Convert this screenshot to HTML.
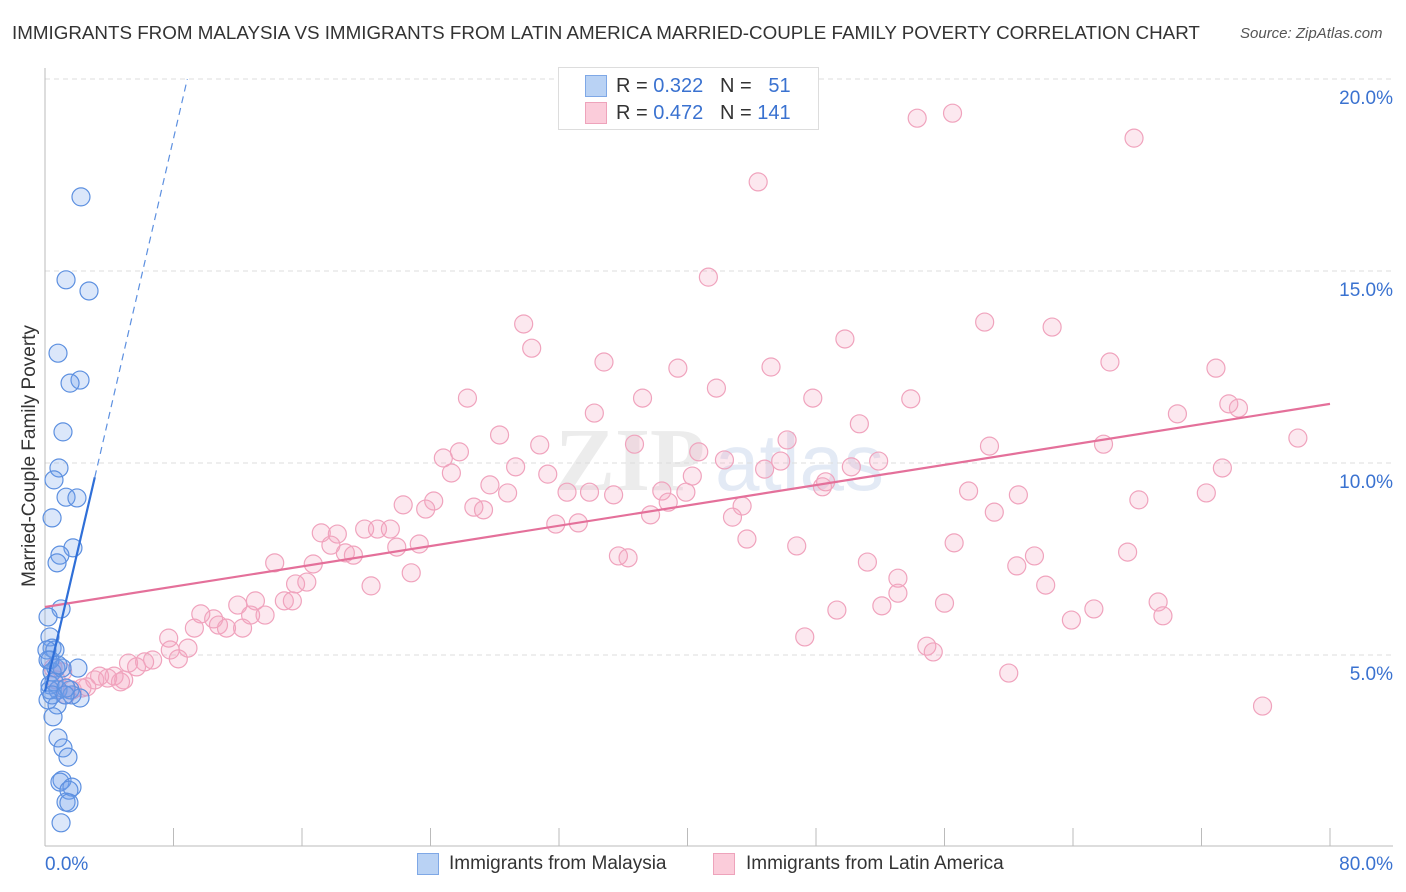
<!DOCTYPE html>
<html><head><meta charset="utf-8"><style>
body{margin:0;background:#fff;font-family:"Liberation Sans",sans-serif;}
#wrap{position:relative;width:1406px;height:892px;overflow:hidden;}
.t{position:absolute;white-space:nowrap;}
</style></head><body><div id="wrap">
<div class="t" style="left:12px;top:22px;font-size:18.8px;color:#333;">IMMIGRANTS FROM MALAYSIA VS IMMIGRANTS FROM LATIN AMERICA MARRIED-COUPLE FAMILY POVERTY CORRELATION CHART</div>
<div class="t" style="left:1240px;top:25px;font-size:15px;color:#555;font-style:italic;">Source: ZipAtlas.com</div>
<svg id="svg" width="1406" height="892" style="position:absolute;left:0;top:0"></svg>
</div>
<script>
const yTicks=[5,10,15,20];
const xTickLabels=["0.0%","80.0%"];
const blueX=[2.24,1.31,2.74,0.81,2.18,1.56,1.12,0.87,0.56,1.31,1.99,0.44,1.74,0.93,0.75,1.0,0.19,0.31,0.44,0.62,0.19,0.68,2.05,0.44,1.06,0.31,0.81,1.56,0.19,0.75,2.18,1.68,0.5,0.81,1.12,1.43,1.06,0.93,1.68,1.49,1.31,1.49,1.0,0.31,0.56,1.31,0.12,0.31,0.81,0.44,1.25];
const blueY=[16.93,14.77,14.48,12.86,12.16,12.08,10.81,9.87,9.56,9.11,9.09,8.57,7.79,7.6,7.4,6.2,5.99,5.47,5.18,5.13,4.87,4.66,4.66,4.56,4.66,4.22,4.09,4.09,3.83,3.7,3.88,3.96,3.39,2.84,2.58,2.34,1.74,1.69,1.56,1.48,1.17,1.15,0.63,4.09,4.3,4.14,5.13,4.87,4.74,3.96,3.96];
const pinkX=[54.3,56.5,67.8,44.4,41.3,58.5,62.7,29.8,30.3,49.8,34.8,39.4,45.2,41.8,66.3,72.9,26.3,37.2,47.8,53.9,73.7,74.3,34.2,70.5,50.7,28.3,36.7,46.2,30.8,78.0,25.8,40.7,58.8,65.9,24.8,42.3,45.8,51.9,50.2,29.3,25.3,31.3,40.3,44.8,48.6,48.4,73.3,27.7,38.4,39.9,28.8,32.5,33.9,35.4,57.5,60.6,72.3,68.1,22.3,24.2,23.7,26.7,27.3,43.4,38.8,37.7,42.8,59.1,31.8,33.2,17.2,18.2,19.9,20.7,21.5,17.8,21.9,23.3,56.6,43.7,46.8,18.7,19.2,67.4,35.7,36.3,61.6,14.3,16.7,22.8,51.2,60.5,20.3,15.6,16.3,53.1,53.1,62.3,14.9,15.4,56.0,12.0,13.1,52.1,65.3,69.3,69.6,49.3,13.7,9.7,10.5,10.8,12.8,11.3,12.3,9.3,63.9,47.3,7.7,8.9,7.8,54.9,55.3,6.7,5.2,6.2,8.3,5.7,60.0,4.3,3.4,4.9,3.9,3.1,4.7,2.6,1.7,75.8,0.7,1.1,0.5,0.8,2.3,1.3];
const pinkY=[18.98,19.11,18.46,17.32,14.84,13.67,13.54,13.62,12.99,13.23,12.63,12.47,12.5,11.95,12.63,12.47,11.69,11.69,11.69,11.67,11.54,11.43,11.3,11.28,11.02,10.73,10.49,10.6,10.47,10.65,10.29,10.29,10.44,10.49,10.13,10.08,10.05,10.05,9.9,9.9,9.74,9.71,9.66,9.84,9.51,9.38,9.87,9.43,9.27,9.24,9.22,9.24,9.24,9.17,9.27,9.17,9.22,9.04,8.91,9.01,8.8,8.85,8.78,8.88,8.98,8.65,8.59,8.72,8.41,8.44,8.18,8.15,8.28,8.28,8.28,7.86,7.81,7.89,7.92,8.02,7.84,7.66,7.6,7.68,7.58,7.53,7.58,7.4,7.37,7.14,7.42,7.32,6.8,6.85,6.9,7.0,6.61,6.82,6.41,6.41,6.35,6.3,6.41,6.28,6.2,6.38,6.02,6.17,6.04,6.07,5.94,5.78,6.04,5.7,5.7,5.7,5.91,5.47,5.44,5.18,5.13,5.23,5.08,4.87,4.79,4.82,4.9,4.69,4.53,4.45,4.45,4.35,4.4,4.35,4.3,4.17,4.09,3.67,4.35,4.56,4.66,4.09,4.14,3.96];
const pinkTrend=[6.25,11.54];
const blueTrend=[4.05,1.8];
const X0=45,X1=1330,YB=847;
function sx(v){return X0+v/80*(X1-X0);}
function sy(v){return YB-v*38.4;}
const svg=document.getElementById('svg');
const NS='http://www.w3.org/2000/svg';
function mk(tag,at){const e=document.createElementNS(NS,tag);for(const k in at)e.setAttribute(k,at[k]);svg.appendChild(e);return e;}
let w=mk('text',{x:555,y:490,'font-size':90,'font-family':'Liberation Serif,serif','font-weight':'bold',fill:'#ececec'});w.textContent='ZIP';


let w2=mk('text',{x:715,y:490,'font-size':80,'font-family':'Liberation Sans,sans-serif',fill:'#e3eaf5'});w2.textContent='atlas';


yTicks.forEach(v=>{
 const g=mk('line',{x1:X0,x2:1393,y1:sy(v),y2:sy(v),stroke:'#ddd','stroke-dasharray':'5,4'});
 
 
 const t=mk('text',{x:1393,y:sy(v)+25,'text-anchor':'end','font-size':19,fill:'#3a72d0'});t.textContent=v.toFixed(1)+'%';
 
 
});
const ax=mk('line',{x1:X0,x2:X0,y1:68,y2:846,stroke:'#bbb'});


const bx=mk('line',{x1:X0,x2:1393,y1:846,y2:846,stroke:'#bbb'});


for(let i=0;i<=10;i++){const l=mk('line',{x1:sx(i*8),x2:sx(i*8),y1:828,y2:846,stroke:'#bbb'});
 
 }
[[0,'start'],[80,'end']].forEach((p,i)=>{const t=mk('text',{x:i?1393:45,y:870,'text-anchor':p[1],'font-size':19,fill:'#3a72d0'});t.textContent=xTickLabels[i];
 
 });
const yt=mk('text',{x:35,y:456,transform:'rotate(-90 35 456)','text-anchor':'middle','font-size':19,fill:'#333'});yt.textContent='Married-Couple Family Poverty';


pinkX.forEach((x,i)=>{const c=mk('circle',{cx:sx(x),cy:sy(pinkY[i]),r:9,fill:'rgba(245,165,192,0.25)',stroke:'#f0a3bd','stroke-width':1.2});
 
 });
blueX.forEach((x,i)=>{const c=mk('circle',{cx:sx(x),cy:sy(blueY[i]),r:9,fill:'rgba(110,160,235,0.25)',stroke:'#5d90e0','stroke-width':1.2});
 
 });
const pl=mk('line',{x1:sx(0),y1:sy(pinkTrend[0]),x2:sx(80),y2:sy(pinkTrend[1]),stroke:'#e4709a','stroke-width':2.2});


const bl=mk('line',{x1:sx(0),y1:sy(blueTrend[0]),x2:sx(3.1),y2:sy(blueTrend[0]+blueTrend[1]*3.1),stroke:'#2f6fd8','stroke-width':2.2});


const xe=(20-blueTrend[0])/blueTrend[1];
const bd=mk('line',{x1:sx(3.1),y1:sy(blueTrend[0]+blueTrend[1]*3.1),x2:sx(xe),y2:sy(20),stroke:'#5d90e0','stroke-width':1.2,'stroke-dasharray':'7,5'});


</script>
<div style="position:absolute;left:558px;top:67px;width:259px;height:61px;border:1px solid #ddd;background:#fff;font-size:20px;">
 <div style="position:absolute;left:26px;top:7px;width:20px;height:20px;background:#b9d2f4;border:1px solid #7fa8e6;"></div>
 <div class="t" style="left:57px;top:7px;color:#333">R = <span style="color:#3a72d0">0.322</span>&nbsp;&nbsp;&nbsp;N = &nbsp;&nbsp;<span style="color:#3a72d0">51</span></div>
 <div style="position:absolute;left:26px;top:34px;width:20px;height:20px;background:#fbccda;border:1px solid #eea3bb;"></div>
 <div class="t" style="left:57px;top:34px;color:#333">R = <span style="color:#3a72d0">0.472</span>&nbsp;&nbsp;&nbsp;N = <span style="color:#3a72d0">141</span></div>
</div>
<div style="position:absolute;left:417px;top:853px;width:20px;height:20px;background:#b9d2f4;border:1px solid #7fa8e6;"></div>
<div class="t" style="left:449px;top:853px;font-size:19px;color:#333">Immigrants from Malaysia</div>
<div style="position:absolute;left:713px;top:853px;width:20px;height:20px;background:#fbccda;border:1px solid #eea3bb;"></div>
<div class="t" style="left:746px;top:853px;font-size:19px;color:#333">Immigrants from Latin America</div>
</body></html>
